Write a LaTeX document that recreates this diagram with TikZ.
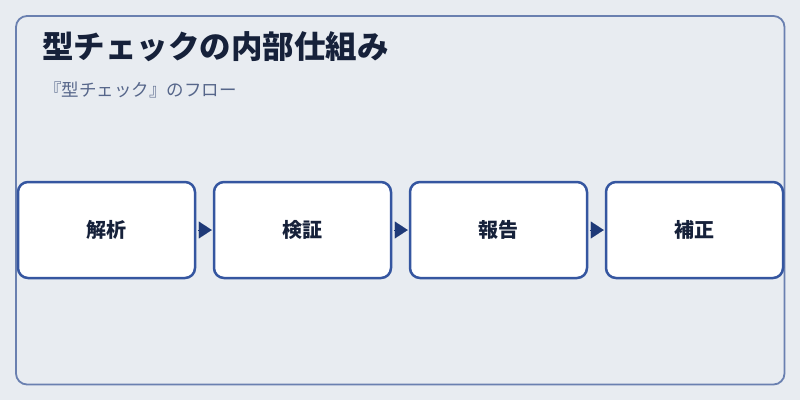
\documentclass[tikz,border=0pt]{standalone}
\usepackage{fontspec}
\setmainfont{Noto Sans CJK JP}
\usetikzlibrary{arrows.meta}
\definecolor{bg}{HTML}{E8ECF1}
\definecolor{frame}{HTML}{6A80B0}
\definecolor{boxline}{HTML}{3556A0}
\definecolor{arrowc}{HTML}{1F3A78}
\definecolor{titlec}{HTML}{16213A}
\definecolor{subc}{HTML}{56668A}
\tikzset{
  stepbox/.style={draw=boxline, line width=2.5pt, fill=white, rounded corners=10pt,
    minimum width=177pt, minimum height=96pt, inner sep=0pt,
    font=\fontsize{20pt}{24pt}\selectfont\bfseries, text=titlec},
  flowarrow/.style={draw=arrowc, line width=0.1pt, -{Triangle[length=13pt,width=17pt]}, shorten <=1.5pt, shorten >=1pt, fill=arrowc},
}
\begin{document}
\begin{tikzpicture}[x=1pt,y=-1pt]
\fill[bg] (0,0) rectangle (800,400);
\useasboundingbox (0,0) rectangle (800,400);
\draw[frame, line width=1.8pt, rounded corners=11pt] (16,16) rectangle (784.5,384.5);
\node[anchor=west, text=titlec, font=\fontsize{31.5pt}{36pt}\selectfont\bfseries] (title) at (38.5,47) {型チェックの内部仕組み};
\node[anchor=west, text=subc, font=\fontsize{17.5pt}{21pt}\selectfont] (sub) at (40.5,90) {『型チェック』のフロー};
\node[stepbox] (s1) at (106.5,230) {\raisebox{-3pt}{解析}};
\node[stepbox] (s2) at (302.5,230) {\raisebox{-3pt}{検証}};
\node[stepbox] (s3) at (498.5,230) {\raisebox{-3pt}{報告}};
\node[stepbox] (s4) at (694.5,230) {\raisebox{-3pt}{補正}};
\draw[flowarrow] (s1.east) -- (s2.west);
\draw[flowarrow] (s2.east) -- (s3.west);
\draw[flowarrow] (s3.east) -- (s4.west);
\end{tikzpicture}
\end{document}
